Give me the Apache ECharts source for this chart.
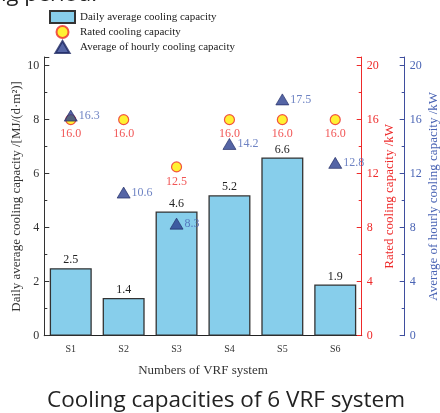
<!DOCTYPE html>
<html><head><meta charset="utf-8">
<script src="https://cdn.jsdelivr.net/npm/echarts@6/dist/echarts.min.js"></script>
<style>html,body{margin:0;padding:0;background:#fff;}#c{width:440px;height:413px;}</style>
</head><body><div id="c"></div>
<script>
const categories = ['S1','S2','S3','S4','S5','S6'];
const dailyAvg = [2.5, 1.4, 4.6, 5.2, 6.6, 1.9];
const rated = [16.0, 16.0, 12.5, 16.0, 16.0, 16.0];
const hourlyAvg = [16.3, 10.6, 8.3, 14.2, 17.5, 12.8];
const leftTicks = [0, 2, 4, 6, 8, 10];
const rightTicks = [0, 4, 8, 12, 16, 20];

const serif = 'Liberation Serif, Times New Roman, serif';
const RED = '#EE2A2A', BLUE = '#3F4E9E', BLUE_TXT = '#4A64B4';

const chart = echarts.init(document.getElementById('c'));
const yBase = (max, interval, color, labels) => ({
  type: 'value', min: 0, max: max, interval: interval,
  nameLocation: 'middle', nameRotate: 90, nameGap: 21.5, nameMoveOverlap: false,
  nameTextStyle: { fontFamily: serif, fontSize: 13, color: color },
  axisLine: { show: true, lineStyle: { color: color, width: 1 } },
  axisTick: { show: true, inside: true, length: 5, lineStyle: { color: color } },
  minorTick: { show: true, splitNumber: 2, length: 3, lineStyle: { color: color } },
  axisLabel: { fontFamily: serif, fontSize: 12, color: color, margin: 5, showMaxLabel: false,
    formatter: v => labels.indexOf(v) >= 0 ? String(v) : '' },
  splitLine: { show: false }
});
const yLeft = yBase(10.32, 2, '#333', leftTicks);
yLeft.name = 'Daily average cooling capacity /[MJ/(d·m²)]';
const yRed = yBase(20.64, 4, RED, rightTicks);
yRed.position = 'right';
yRed.name = 'Rated cooling capacity /kW';
const yBlue = yBase(20.64, 4, BLUE, rightTicks);
yBlue.position = 'right';
yBlue.offset = 43;
yBlue.name = 'Average of hourly cooling capacity /kW';
yBlue.nameGap = 22.5;
yBlue.axisLabel.color = BLUE_TXT;
yBlue.nameTextStyle.color = BLUE_TXT;

chart.setOption({
  animation: false,
  backgroundColor: '#fff',
  grid: { left: 44.3, right: 78.3, top: 57, bottom: 77.3, containLabel: false, outerBoundsMode: 'none' },
  legend: {
    orient: 'vertical', left: 44, top: 5, itemWidth: 25, itemHeight: 12, itemGap: 1,
    symbolKeepAspect: true,
    textStyle: { fontFamily: serif, fontSize: 11, color: '#222', lineHeight: 12 },
    data: [
      { name: 'Daily average cooling capacity', icon: 'rect' },
      { name: 'Rated cooling capacity', icon: 'circle' },
      { name: 'Average of hourly cooling capacity', icon: 'path://M0,11 L6.5,0 L13,11 Z' }
    ]
  },
  xAxis: [{
    type: 'category', data: categories, position: 'bottom',
    name: 'Numbers of VRF system', nameLocation: 'middle', nameGap: 28,
    nameTextStyle: { fontFamily: serif, fontSize: 13, color: '#333' },
    axisLine: { lineStyle: { color: '#222' } },
    axisTick: { inside: true, alignWithLabel: true, length: 4, lineStyle: { color: '#222' } },
    axisLabel: { fontFamily: serif, fontSize: 10, color: '#333', margin: 9 }
  }, {
    type: 'category', data: categories, position: 'top',
    axisLine: { lineStyle: { color: '#222' } },
    axisTick: { inside: true, alignWithLabel: true, length: 4, lineStyle: { color: '#222' } },
    axisLabel: { show: false }
  }],
  yAxis: [yLeft, yRed, yBlue],
  graphic: [{
    type: 'text', left: 47, top: 389,
    style: { text: 'Cooling capacities of 6 VRF system', font: '22.5px "Open Sans"', fill: '#222' }
  }, {
    type: 'text', x: 97, y: -5,
    style: { text: 'cooling period.', font: '22px "Open Sans"', fill: '#222', align: 'right', verticalAlign: 'middle' }
  }],
  series: [{
    name: 'Daily average cooling capacity', type: 'bar', xAxisIndex: 0, yAxisIndex: 0,
    data: dailyAvg, barWidth: 42,
    itemStyle: { color: '#87CEEB', borderColor: '#333', borderWidth: 1.3 },
    label: { show: true, position: 'top', distance: 2, fontFamily: serif, fontSize: 12, color: '#222',
      formatter: p => p.value.toFixed(1) }
  }, {
    name: 'Rated cooling capacity', type: 'scatter', xAxisIndex: 0, yAxisIndex: 1,
    data: rated, symbol: 'circle', symbolSize: 10, z: 3,
    itemStyle: { color: '#FFEE00', borderColor: RED, borderWidth: 1.2 },
    label: { show: true, position: 'bottom', distance: 3, fontFamily: serif, fontSize: 12, color: RED,
      formatter: p => p.value.toFixed(1) }
  }, {
    name: 'Average of hourly cooling capacity', type: 'scatter', xAxisIndex: 0, yAxisIndex: 2,
    data: hourlyAvg, symbol: 'triangle', symbolSize: [13, 11], z: 4,
    itemStyle: { color: '#2B3F8E', borderColor: '#1a2560', borderWidth: 0.8 },
    label: { show: true, position: 'right', distance: 1, fontFamily: serif, fontSize: 12, color: BLUE_TXT,
      formatter: p => p.value.toFixed(1) }
  }]
});
</script></body></html>
